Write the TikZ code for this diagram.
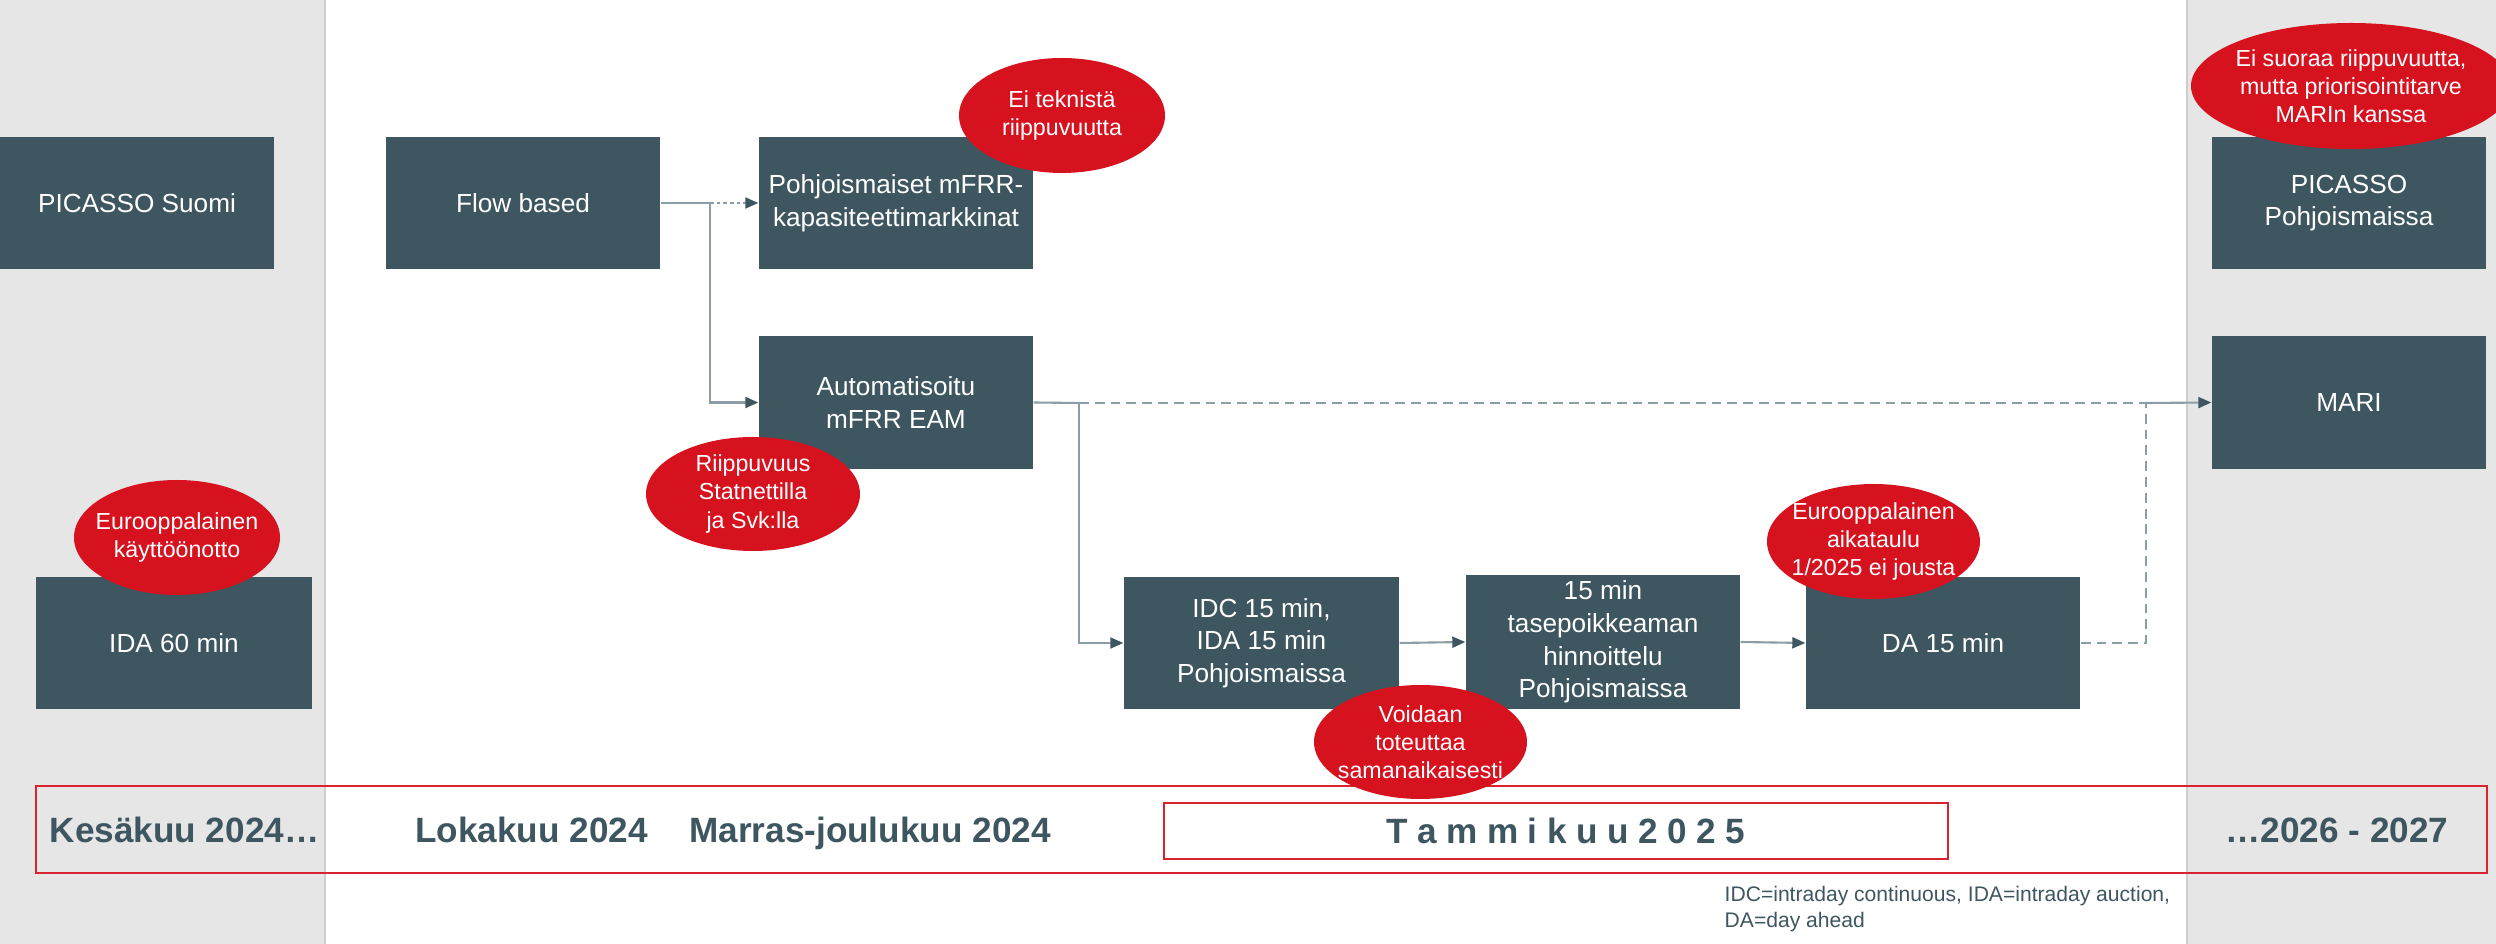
\documentclass[tikz,border=0pt]{standalone}
\usepackage{fontspec}
\setmainfont{Liberation Sans}
\usetikzlibrary{shapes.geometric,arrows.meta}
\definecolor{boxc}{RGB}{62,86,96}
\definecolor{redc}{RGB}{214,18,31}
\definecolor{panelc}{RGB}{230,230,230}
\definecolor{panelline}{RGB}{205,205,205}
\definecolor{linec}{RGB}{140,157,166}
\definecolor{barred}{RGB}{217,35,46}
\tikzset{
  box/.style={rectangle, fill=boxc, text=white, align=center,
    font=\fontsize{7.45}{9.3}\selectfont, inner sep=0pt,
    minimum width=27.4mm, minimum height=13.2mm},
  bubble/.style={ellipse, fill=redc, text=white, align=center,
    font=\fontsize{6.6}{8}\selectfont, inner xsep=-4mm, inner ysep=-2mm},
  conn/.style={draw=linec, line width=0.6pt},
  tipped/.style={-{Triangle[length=1.3mm, width=1.1mm, color=boxc]}},
  dotline/.style={dash pattern=on 1pt off 0.9pt},
  dashline/.style={dash pattern=on 2.8pt off 1.7pt},
  tl/.style={font=\fontsize{10}{12}\selectfont\bfseries, text=boxc, inner sep=0pt, anchor=base},
}
\begin{document}
\begin{tikzpicture}[x=0.1mm, y=-0.1mm]
\useasboundingbox (0,0) rectangle (2496,944);
\clip (0,0) rectangle (2496,944);
% side panels
\fill[panelc] (0,0) rectangle (325,944);
\draw[panelline, line width=0.5pt] (325,0) -- (325,944);
\fill[panelc] (2187,0) rectangle (2496,944);
\draw[panelline, line width=0.5pt] (2187,0) -- (2187,944);
% timeline bar
\draw[barred, line width=0.6pt] (36,786) rectangle (2487,873);
\node[draw=barred, line width=0.6pt, minimum width=78.35mm, minimum height=5.6mm, inner sep=0pt] (tambox) at (1556,831) {};
\node[tl] (kes) at (184.5,843) {Kesäkuu 2024…};
\node[tl] (lok) at (531.5,843) {Lokakuu 2024};
\node[tl] (mar) at (870,843) {Marras-joulukuu 2024};
\node[tl] (tam) at (1565.5,844) {T\kern2.7pt a\kern2.7pt m\kern2.7pt m\kern2.7pt i\kern2.7pt k\kern2.7pt u\kern2.7pt u\kern2.7pt 2\kern2.7pt 0\kern2.7pt 2\kern2.7pt 5};
\node[tl] (y26) at (2337,843) {…2026 - 2027};
% footnote
\node[anchor=north west, inner sep=0pt, align=left, text=boxc, font=\fontsize{6}{7.2}\selectfont] (fn) at (1724,886) {IDC=intraday continuous, IDA=intraday auction,\\DA=day ahead};
% boxes
\node[box] (picfi) at (137,203) {PICASSO Suomi};
\node[box] (flow) at (523,203) {Flow based};
\node[box] (pohj) at (896,203) {Pohjoismaiset mFRR-\\kapasiteettimarkkinat};
\node[box, minimum height=13.3mm] (eam) at (896,402.5) {Automatisoitu\\mFRR EAM};
\node[box] (picno) at (2349,203) {PICASSO\\Pohjoismaissa};
\node[box, minimum height=13.3mm] (mari) at (2349,402.5) {MARI};
\node[box, minimum width=27.6mm] (ida) at (174,643) {IDA 60 min};
\node[box, minimum width=27.5mm] (idc) at (1261.5,643) {IDC 15 min,\\IDA 15 min\\Pohjoismaissa};
\node[box, minimum height=13.4mm] (tase) at (1603,642) {15 min\\tasepoikkeaman\\hinnoittelu\\Pohjoismaissa};
\node[box] (da) at (1943,643) {DA 15 min};
% connectors
\coordinate (j1) at (710,203);
\coordinate (j2) at (1079,403);
\coordinate (j3) at (2146,403);
\coordinate (j4) at (2146,643);
\draw[conn] (flow.east) -- (j1);
\draw[conn, dotline, tipped] (j1) -- (pohj.west);
\draw[conn, tipped] (j1) |- (eam.west);
\draw[conn] (eam.east) -- (j2);
\draw[conn, dashline] (j2) -- (j3);
\draw[conn, tipped] (j3) -- (mari.west);
\draw[conn, tipped] (j2) |- (idc.west);
\draw[conn, tipped] (idc.east) -- (tase.west);
\draw[conn, tipped] (tase.east) -- (da.west);
\draw[conn, dashline] (da.east) -- (j4) -- (j3);
% bubbles
\node[bubble, minimum width=20.6mm, minimum height=11.5mm] (eitek) at (1062,115.5) {Ei teknistä\\riippuvuutta};
\node[bubble, minimum width=32mm, minimum height=12.6mm] (eisuor) at (2351,86) {Ei suoraa riippuvuutta,\\mutta priorisointitarve\\MARIn kanssa};
\node[bubble, minimum width=20.6mm, minimum height=11.5mm] (euro1) at (177,537.5) {Eurooppalainen\\käyttöönotto};
\node[bubble, minimum width=21.4mm, minimum height=11.4mm] (riipp) at (753,494) {Riippuvuus\\Statnettilla\\ja Svk:lla};
\node[bubble, minimum width=21.3mm, minimum height=11.5mm] (euro2) at (1873.5,541.5) {Eurooppalainen\\aikataulu\\1/2025 ei jousta};
\node[bubble, minimum width=21.3mm, minimum height=11.4mm] (voi) at (1420.5,742) {Voidaan\\toteuttaa\\samanaikaisesti};
\end{tikzpicture}
\end{document}
